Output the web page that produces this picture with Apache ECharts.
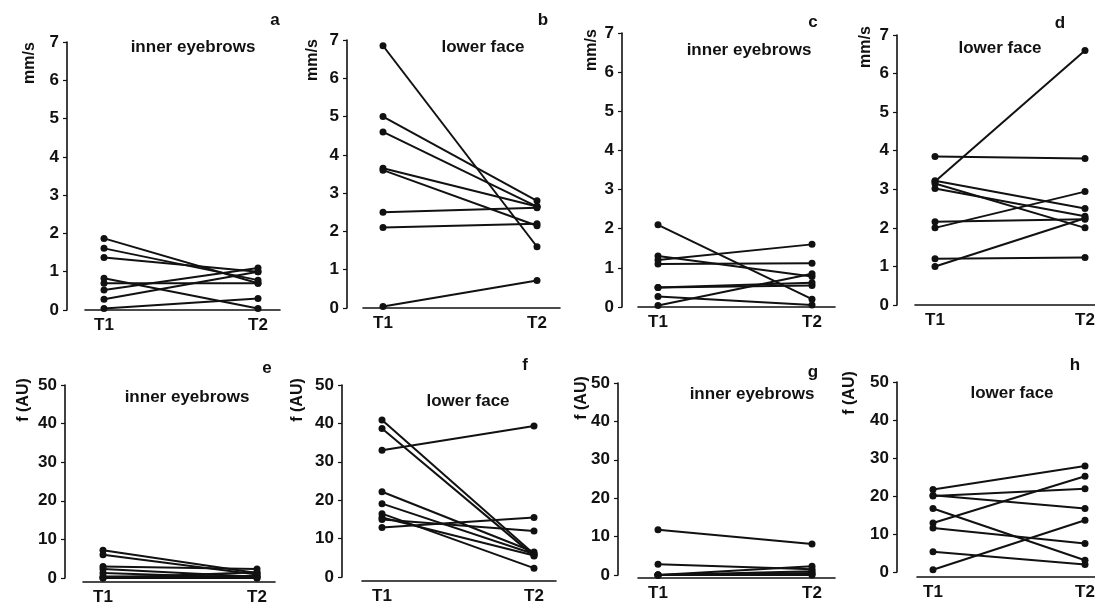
<!DOCTYPE html>
<html>
<head>
<meta charset="utf-8">
<script src="https://cdn.jsdelivr.net/npm/echarts@6/dist/echarts.min.js"></script>
<style>
  html, body { margin: 0; background: #fff; }
  #chart { width: 1095px; height: 605px; }
</style>
</head>
<body>
<div id="chart"></div>
<script>
// 数据：每个面板 T1 / T2 两个时间点，每个受试者一条线
const categories = ['T1', 'T2'];
const panelLetters = ['a', 'b', 'c', 'd', 'e', 'f', 'g', 'h'];
const panelTitles = ['inner eyebrows', 'lower face', 'inner eyebrows', 'lower face',
                     'inner eyebrows', 'lower face', 'inner eyebrows', 'lower face'];
const yNames = ['mm/s', 'mm/s', 'mm/s', 'mm/s', 'f (AU)', 'f (AU)', 'f (AU)', 'f (AU)'];
const velTicks = [0, 7, 1];   // min, max, interval
const forceTicks = [0, 50, 10];

// a
const aT1 = [1.87, 1.61, 1.37, 0.83, 0.70, 0.52, 0.28, 0.04];
const aT2 = [0.70, 0.78, 1.00, 0.04, 0.70, 1.10, 1.00, 0.30];
// b
const bT1 = [6.85, 5.00, 4.60, 3.65, 3.60, 2.50, 2.10, 0.04];
const bT2 = [1.60, 2.80, 2.65, 2.65, 2.15, 2.62, 2.20, 0.72];
// c
const cT1 = [2.10, 1.30, 1.20, 1.10, 0.50, 0.50, 0.27, 0.04];
const cT2 = [0.20, 0.78, 1.60, 1.12, 0.55, 0.62, 0.05, 0.85];
// d
const dT1 = [3.85, 3.20, 3.22, 3.15, 3.02, 2.16, 2.00, 1.20, 1.00];
const dT2 = [3.80, 6.60, 2.50, 2.00, 2.30, 2.22, 2.94, 1.23, 2.25];
// e
const eT1 = [7.2, 6.0, 3.0, 2.3, 1.3, 0.4, 0.0, 0.0];
const eT2 = [1.3, 0.9, 2.3, 0.3, 0.0, 0.5, 0.0, 1.5];
// f
const fT1 = [40.9, 38.7, 33.0, 22.2, 19.1, 16.5, 15.5, 15.0, 12.9];
const fT2 = [6.0, 5.5, 39.3, 6.5, 6.0, 2.3, 5.6, 12.0, 15.5];
// g
const gT1 = [11.8, 2.8, 0.0, 0.0, 0.0, 0.0, 0.0];
const gT2 = [8.1, 1.5, 2.3, 1.0, 0.5, 0.2, 0.0];
// h
const hT1 = [21.7, 20.0, 20.2, 16.7, 12.9, 11.6, 5.3, 0.6];
const hT2 = [27.9, 21.9, 16.7, 3.1, 25.2, 7.5, 2.0, 13.6];

const panelData = [[aT1, aT2], [bT1, bT2], [cT1, cT2], [dT1, dT2],
                   [eT1, eT2], [fT1, fT2], [gT1, gT2], [hT1, hT2]];

// 版面位置（像素）
// yx: y轴所在x, top/bottom: y轴最大/0刻度, left/right: x轴线两端, t1/t2: 两个时间点位置, xline: x轴线y
const layout = [
    {yx: 67,  top: 42,  bottom: 310, left: 85,  right: 280,  t1: 104, t2: 258, xline: 310, name: [30, 63],  title: [193, 47],  letter: [275, 20]},
    {yx: 347, top: 40,  bottom: 308, left: 363, right: 560,  t1: 383, t2: 537, xline: 308, name: [313, 60], title: [483, 47],  letter: [543, 20]},
    {yx: 622, top: 33,  bottom: 307, left: 638, right: 835,  t1: 658, t2: 812, xline: 307, name: [592, 50], title: [749, 50],  letter: [813, 22]},
    {yx: 897, top: 35,  bottom: 305, left: 915, right: 1095, t1: 935, t2: 1085, xline: 305, name: [866, 47], title: [1000, 48], letter: [1060, 23]},
    {yx: 65,  top: 385, bottom: 578, left: 83,  right: 275,  t1: 103, t2: 257, xline: 582, name: [24, 400],  title: [187, 397], letter: [267, 368]},
    {yx: 342, top: 385, bottom: 577, left: 362, right: 556,  t1: 382, t2: 534, xline: 581, name: [298, 400], title: [468, 401], letter: [525, 365]},
    {yx: 618, top: 383, bottom: 575, left: 638, right: 835,  t1: 658, t2: 812, xline: 578, name: [582, 398], title: [752, 394], letter: [813, 372]},
    {yx: 897, top: 382, bottom: 572, left: 917, right: 1095, t1: 933, t2: 1085, xline: 577, name: [850, 393], title: [1012, 393], letter: [1075, 365]}
];

const FONT = "'Liberation Sans', Arial, sans-serif";
const INK = '#111';

const grids = [], xAxes = [], yAxes = [], series = [], graphics = [];

layout.forEach(function (p, i) {
    const ticks = i < 4 ? velTicks : forceTicks;
    const scale = p.t2 - p.t1;
    grids.push({
        left: p.left,
        top: p.top,
        width: p.right - p.left,
        height: p.bottom - p.top,
        outerBoundsMode: 'none',
        containLabel: false
    });
    xAxes.push({
        type: 'value',
        gridIndex: i,
        min: 1 - (p.t1 - p.left) / scale,
        max: 2 + (p.right - p.t2) / scale,
        offset: p.xline - p.bottom,
        axisLine: {show: true, onZero: false, lineStyle: {color: INK, width: 1.6}},
        axisTick: {show: false},
        splitLine: {show: false},
        axisLabel: {
            customValues: [1, 2],
            formatter: function (v) { return categories[Math.round(v) - 1]; },
            color: INK,
            fontFamily: FONT,
            fontWeight: 'bold',
            fontSize: 17,
            margin: 7
        }
    });
    yAxes.push({
        type: 'value',
        gridIndex: i,
        min: ticks[0],
        max: ticks[1],
        interval: ticks[2],
        offset: p.left - p.yx,
        axisLine: {show: true, lineStyle: {color: INK, width: 1.6}},
        axisTick: {show: true, length: 4, lineStyle: {color: INK, width: 1.2}},
        splitLine: {show: false},
        axisLabel: {
            color: INK,
            fontFamily: FONT,
            fontWeight: 'bold',
            fontSize: 17,
            margin: 8
        }
    });

    const t1 = panelData[i][0], t2 = panelData[i][1];
    for (let k = 0; k < t1.length; k++) {
        series.push({
            type: 'line',
            xAxisIndex: i,
            yAxisIndex: i,
            data: [[1, t1[k]], [2, t2[k]]],
            symbol: 'circle',
            symbolSize: 7,
            showSymbol: true,
            lineStyle: {color: INK, width: 2},
            itemStyle: {color: INK},
            emphasis: {disabled: true},
            silent: true
        });
    }

    // 面板标题、字母和纵轴名称
    graphics.push({
        type: 'text',
        x: p.title[0], y: p.title[1],
        style: {text: panelTitles[i], fill: INK, font: 'bold 17px ' + FONT, align: 'center', verticalAlign: 'middle'}
    });
    graphics.push({
        type: 'text',
        x: p.letter[0], y: p.letter[1],
        style: {text: panelLetters[i], fill: INK, font: 'bold 17px ' + FONT, align: 'center', verticalAlign: 'middle'}
    });
    graphics.push({
        type: 'text',
        x: p.name[0], y: p.name[1],
        rotation: Math.PI / 2,
        style: {text: yNames[i], fill: INK, font: 'bold 16px ' + FONT, align: 'center', verticalAlign: 'middle'}
    });
});

const chart = echarts.init(document.getElementById('chart'));
chart.setOption({
    backgroundColor: '#fff',
    animation: false,
    grid: grids,
    xAxis: xAxes,
    yAxis: yAxes,
    series: series,
    graphic: graphics
});
</script>
</body>
</html>
